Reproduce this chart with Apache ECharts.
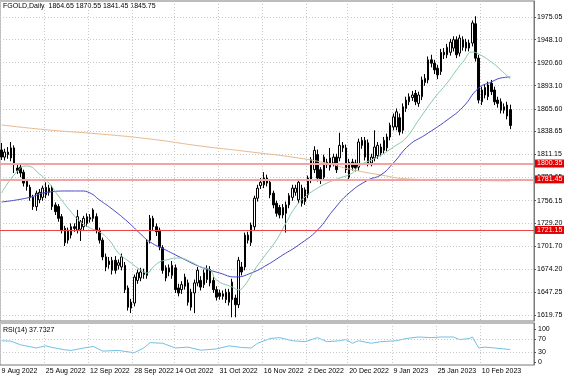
<!DOCTYPE html>
<html>
<head>
<meta charset="utf-8">
<script src="https://cdn.jsdelivr.net/npm/echarts@6/dist/echarts.min.js"></script>
<style>
  html, body { margin: 0; padding: 0; background: #fff; }
  #chart { width: 564px; height: 376px; }
</style>
</head>
<body>
<div id="chart"></div>
<script>
// daily candles: [open, close, low, high]
const candles = [
  [1816.5, 1808.1, 1804.6, 1824.8], [1808, 1814, 1804, 1818], [1814, 1811, 1806, 1820], [1807, 1819, 1803, 1826],
  [1819, 1799, 1789, 1822], [1795, 1792, 1788, 1799], [1796, 1789, 1784, 1799], [1790, 1777, 1773, 1793],
  [1779, 1773, 1768, 1782], [1772, 1760, 1756, 1775], [1760, 1749, 1745, 1763], [1749, 1765, 1744, 1768],
  [1757, 1766, 1753, 1770], [1760, 1771, 1756, 1774], [1763, 1772, 1759, 1778], [1766, 1771, 1762, 1775],
  [1771, 1749, 1745, 1774], [1751, 1743, 1739, 1754], [1749, 1735, 1731, 1752], [1737, 1721, 1717, 1740],
  [1723, 1706, 1702, 1726], [1709, 1721, 1705, 1724], [1715, 1725, 1711, 1729], [1725, 1723, 1719, 1729],
  [1721, 1737, 1717, 1745], [1722, 1731, 1708, 1733], [1725, 1735, 1721, 1738], [1729, 1737, 1725, 1741],
  [1734, 1736, 1730, 1740], [1735, 1745, 1731, 1747], [1737, 1721, 1717, 1741], [1721, 1709, 1705, 1724],
  [1709, 1689, 1685, 1712], [1677, 1689, 1672, 1693], [1684, 1680, 1675, 1689], [1673, 1685, 1668, 1689],
  [1685, 1673, 1669, 1690], [1679, 1682, 1674, 1686], [1677, 1689, 1673, 1693], [1679, 1650, 1646, 1683],
  [1652, 1629, 1625, 1655], [1635, 1628, 1622, 1639], [1634, 1665, 1630, 1668], [1661, 1670, 1657, 1674],
  [1664, 1671, 1660, 1676], [1668, 1671, 1663, 1675], [1667, 1707, 1663, 1710], [1709, 1735, 1705, 1739],
  [1735, 1725, 1721, 1738], [1725, 1719, 1714, 1729], [1721, 1701, 1697, 1724], [1700, 1673, 1669, 1703],
  [1676, 1664, 1660, 1679], [1671, 1676, 1666, 1680], [1667, 1679, 1663, 1684], [1676, 1650, 1646, 1680],
  [1652, 1646, 1642, 1657], [1650, 1656, 1645, 1660], [1654, 1665, 1650, 1669], [1658, 1635, 1631, 1662],
  [1629, 1647, 1625, 1651], [1646, 1658, 1622, 1662], [1658, 1673, 1654, 1677], [1661, 1653, 1649, 1666],
  [1656, 1670, 1652, 1674], [1662, 1675, 1658, 1679], [1674, 1658, 1654, 1678], [1661, 1650, 1646, 1665],
  [1650, 1641, 1637, 1654], [1646, 1642, 1638, 1650], [1642, 1645, 1638, 1649], [1638, 1647, 1634, 1651],
  [1647, 1635, 1631, 1651], [1638, 1659, 1617, 1663], [1640, 1632, 1617, 1644], [1632, 1685, 1628, 1689],
  [1677, 1671, 1667, 1683], [1677, 1715, 1673, 1718], [1715, 1709, 1705, 1719], [1706, 1727, 1702, 1730],
  [1725, 1759, 1721, 1762], [1759, 1771, 1755, 1775], [1774, 1778, 1770, 1783], [1775, 1783, 1771, 1790],
  [1783, 1777, 1773, 1787], [1778, 1763, 1759, 1781], [1765, 1751, 1747, 1768], [1753, 1741, 1737, 1756],
  [1748, 1739, 1735, 1751], [1739, 1748, 1735, 1752], [1741, 1751, 1718, 1755], [1751, 1762, 1747, 1765],
  [1760, 1771, 1756, 1775], [1766, 1771, 1762, 1775], [1757, 1778, 1753, 1782], [1771, 1753, 1749, 1775],
  [1769, 1755, 1751, 1772], [1763, 1783, 1759, 1786], [1781, 1805, 1777, 1808], [1793, 1816, 1789, 1821],
  [1811, 1783, 1779, 1817], [1793, 1781, 1776, 1796], [1784, 1808, 1780, 1811], [1802, 1799, 1795, 1806],
  [1796, 1807, 1792, 1819], [1801, 1808, 1797, 1812], [1808, 1793, 1789, 1812], [1807, 1822, 1803, 1837],
  [1822, 1819, 1814, 1826], [1819, 1793, 1789, 1823], [1784, 1802, 1780, 1806], [1802, 1796, 1792, 1806],
  [1801, 1795, 1791, 1805], [1796, 1826, 1792, 1830], [1828, 1822, 1818, 1832], [1808, 1828, 1804, 1832],
  [1825, 1801, 1797, 1829], [1801, 1808, 1797, 1812], [1807, 1820, 1803, 1840], [1810, 1822, 1806, 1826],
  [1820, 1813, 1809, 1824], [1816, 1828, 1812, 1832], [1819, 1832, 1815, 1836], [1832, 1846, 1828, 1849],
  [1844, 1856, 1840, 1860], [1844, 1862, 1840, 1866], [1855, 1838, 1834, 1860], [1840, 1868, 1836, 1872],
  [1866, 1876, 1862, 1880], [1874, 1880, 1870, 1884], [1879, 1882, 1875, 1887], [1884, 1874, 1870, 1888],
  [1872, 1882, 1868, 1886], [1880, 1900, 1876, 1904], [1897, 1902, 1893, 1907], [1900, 1924, 1896, 1928],
  [1924, 1920, 1915, 1930], [1920, 1912, 1907, 1924], [1914, 1906, 1901, 1918], [1910, 1933, 1906, 1937],
  [1933, 1930, 1925, 1938], [1930, 1939, 1926, 1943], [1933, 1945, 1929, 1949], [1938, 1948, 1934, 1952],
  [1948, 1930, 1926, 1952], [1932, 1950, 1928, 1954], [1948, 1939, 1935, 1952], [1945, 1938, 1934, 1949],
  [1938, 1944, 1934, 1948], [1944, 1968, 1940, 1971], [1967, 1926, 1922, 1976], [1926, 1876, 1872, 1930],
  [1874, 1888, 1870, 1892], [1882, 1891, 1878, 1895], [1880, 1894, 1876, 1898], [1896, 1886, 1882, 1900],
  [1888, 1874, 1870, 1892], [1876, 1872, 1867, 1880], [1874, 1864, 1860, 1878], [1864, 1868, 1860, 1872],
  [1870, 1857, 1853, 1874], [1864.65, 1845.75, 1841.45, 1870.55]
];

// moving averages: [bar index, value]
const maFast = [
  [0, 1765.2], [6, 1795.0], [8, 1797.4], [12, 1787.9], [15, 1777.1], [18, 1761.6], [22, 1742.6], [25, 1730.6],
  [28, 1723.5], [31, 1718.7], [34, 1709.2], [37, 1693.7], [41, 1681.7], [44, 1673.4], [46, 1669.8], [48, 1677.0],
  [50, 1682.9], [52, 1685.3], [56, 1687.7], [60, 1682.9], [63, 1677.0], [66, 1673.4], [68, 1661.5], [73, 1653.1],
  [75, 1649.6], [77, 1655.5], [80, 1673.4], [83, 1688.9], [87, 1709.2], [90, 1729.4], [93, 1748.5], [96, 1760.4],
  [99, 1768.8], [103, 1777.1], [107, 1783.1], [111, 1789.0], [113, 1797.4], [119, 1808.1], [125, 1822.4],
  [128, 1830.8], [132, 1852.2], [137, 1878.5], [141, 1896.4], [144, 1911.9], [146, 1921.4], [149, 1933.3],
  [151, 1930.9], [155, 1921.4], [158, 1911.9], [161, 1901.1]
];
const maMid = [
  [0, 1754.5], [8, 1759.2], [15, 1766.4], [21, 1767.6], [25, 1767.6], [28, 1765.2], [31, 1756.9], [35, 1746.1],
  [40, 1730.6], [44, 1716.3], [47, 1706.8], [52, 1697.2], [57, 1687.7], [63, 1677.0], [69, 1669.8], [74, 1665.1],
  [79, 1669.8], [84, 1679.4], [89, 1691.3], [94, 1703.2], [100, 1721.1], [105, 1744.9], [110, 1765.2],
  [116, 1780.7], [120, 1786.7], [124, 1801.0], [129, 1822.4], [134, 1834.3], [141, 1852.2], [146, 1867.7],
  [151, 1890.4], [155, 1897.6], [158, 1902.3], [161, 1903.5]
];
const maSlow = [
  [0, 1846.3], [15, 1840.3], [31, 1835.6], [47, 1829.6], [63, 1821.2], [79, 1814.1], [94, 1806.9],
  [104, 1799.8], [110, 1793.8], [120, 1786.7], [129, 1781.9], [142, 1780.7], [161, 1779.5]
];

// RSI(14): [bar index, value]
const rsi = [
  [0, 64.3], [3, 63], [6, 52], [11, 42.5], [14, 49], [16, 44], [20, 37], [22, 35], [26, 42.5], [29, 47],
  [32, 33], [37, 35], [42, 28], [45, 42.5], [47, 58.6], [51, 56.7], [55, 42.5], [59, 45], [63, 35.8],
  [68, 39.6], [72, 49], [76, 44], [79, 42.5], [81, 56.7], [85, 71], [88, 73.8], [92, 64.3], [96, 61.5],
  [100, 73.8], [103, 61.5], [107, 64.3], [109, 68], [111, 56.7], [113, 64.3], [117, 56.7], [120, 61.5],
  [125, 64.3], [128, 71], [132, 75.7], [136, 73.8], [139, 75.7], [143, 75.7], [145, 68], [148, 71],
  [149, 75.7], [151, 42.5], [153, 45], [156, 42.5], [159, 39.6], [161, 37.7]
];

const priceTicks = [1975.05, 1948.10, 1920.60, 1893.10, 1865.60, 1838.65, 1811.15, 1783.65,
  1756.15, 1729.20, 1701.70, 1674.20, 1647.25, 1619.75];
const rsiTicks = [0, 30, 70, 100];
const rsiLevels = [30, 70];
const levels = [1800.35, 1781.45, 1721.15];
const dateLabels = ['9 Aug 2022', '25 Aug 2022', '12 Sep 2022', '28 Sep 2022', '14 Oct 2022', '31 Oct 2022',
  '16 Nov 2022', '2 Dec 2022', '20 Dec 2022', '9 Jan 2023', '25 Jan 2023', '10 Feb 2023'];
const dateBars = [0, 14, 28, 42, 55, 69, 83, 97, 110, 124, 138, 152];

const chart = echarts.init(document.getElementById('chart'));

const FONT = 'Liberation Sans';
const FS = 7;
const slots = Array.from({ length: candles.length + 7 }, (_, i) => String(i));
const last = candles[candles.length - 1];
const dotted = { color: '#c8c8c8', type: [1, 2], width: 1 };
const isDateBar = (i) => dateBars.indexOf(i) >= 0;

// level lines with the red price tags on the right
const tag = (text, bg) => ({
  show: true, position: 'end', distance: 1, formatter: text,
  color: '#fff', backgroundColor: bg, padding: [1, 2, 0, 2],
  fontSize: FS, fontFamily: FONT
});
const levelLines = levels.map((v, k) => ({
  yAxis: v,
  lineStyle: k < 2 ? { color: '#f3a3a3', width: 2, type: 'solid' } : { color: '#ee4444', width: 1, type: 'solid' },
  label: tag(v.toFixed(2), '#e30000')
}));
levelLines.push({ yAxis: last[1], lineStyle: { opacity: 0 }, label: tag(last[1].toFixed(2), '#000') });

const option = {
  animation: false,
  backgroundColor: '#fff',
  textStyle: { fontFamily: FONT },
  grid: [
    { left: 0, top: 1, width: 534, height: 320, show: true, borderColor: '#7a7a7a', borderWidth: 1, outerBoundsMode: 'none' },
    { left: 0, top: 323, width: 534, height: 42, show: true, borderColor: '#7a7a7a', borderWidth: 1, outerBoundsMode: 'none' }
  ],
  xAxis: [
    {
      type: 'category', gridIndex: 0, data: slots, boundaryGap: true,
      axisLine: { show: false }, axisTick: { show: false }, axisLabel: { show: false },
      splitLine: { show: true, interval: (i) => isDateBar(i), lineStyle: dotted }
    },
    {
      type: 'category', gridIndex: 1, data: slots, boundaryGap: true,
      axisLine: { show: false }, axisTick: { show: false },
      axisLabel: {
        show: true, interval: (i) => isDateBar(i),
        formatter: (v) => dateLabels[dateBars.indexOf(Number(v))] || '',
        align: 'left', color: '#000', fontSize: FS, fontFamily: FONT, margin: 3
      },
      splitLine: { show: true, interval: (i) => isDateBar(i), lineStyle: dotted }
    }
  ],
  yAxis: [
    {
      type: 'value', gridIndex: 0, position: 'right', min: 1612.6, max: 1994.13,
      axisLine: { show: true, lineStyle: { color: '#7a7a7a' } },
      axisTick: { show: true, customValues: priceTicks, length: 2, lineStyle: { color: '#555' } },
      axisLabel: { customValues: priceTicks, formatter: (v) => v.toFixed(2), color: '#000', fontSize: FS, fontFamily: FONT, margin: 3 },
      splitLine: { show: true, customValues: priceTicks, lineStyle: dotted }
    },
    {
      type: 'value', gridIndex: 1, position: 'right', min: -9, max: 118,
      axisLine: { show: true, lineStyle: { color: '#7a7a7a' } },
      axisTick: { show: true, customValues: rsiTicks, length: 2, lineStyle: { color: '#555' } },
      axisLabel: { show: false },
      splitLine: { show: false }
    }
  ],
  graphic: [
    { type: 'text', left: 3, top: 3, style: { text: 'FGOLD,Daily  1864.65 1870.55 1841.45 1845.75', fill: '#000', font: FS + 'px ' + FONT } },
    { type: 'text', left: 3, top: 327, style: { text: 'RSI(14) 37.7327', fill: '#000', font: FS + 'px ' + FONT } }
  ],
  series: [
    {
      type: 'candlestick', xAxisIndex: 0, yAxisIndex: 0, data: candles, barWidth: 2,
      itemStyle: { color: '#fff', color0: '#000', borderColor: '#000', borderColor0: '#000', borderWidth: 1 },
      markLine: { symbol: 'none', silent: true, animation: false, data: levelLines }
    },
    {
      type: 'line', xAxisIndex: 0, yAxisIndex: 0, data: maSlow, showSymbol: false, smooth: true, z: 3,
      lineStyle: { color: '#e6b98f', width: 1 }
    },
    {
      type: 'line', xAxisIndex: 0, yAxisIndex: 0, data: maMid, showSymbol: false, smooth: true, z: 3,
      lineStyle: { color: '#4646c8', width: 1 }
    },
    {
      type: 'line', xAxisIndex: 0, yAxisIndex: 0, data: maFast, showSymbol: false, smooth: true, z: 3,
      lineStyle: { color: '#86c8a6', width: 1 }
    },
    {
      type: 'line', xAxisIndex: 1, yAxisIndex: 1, data: rsi, showSymbol: false, z: 3,
      lineStyle: { color: '#72c0e8', width: 1 },
      markLine: {
        symbol: 'none', silent: true, animation: false, label: { show: false },
        lineStyle: dotted, data: rsiLevels.map((v) => ({ yAxis: v }))
      }
    }
  ]
};

chart.setOption(option);

// RSI scale labels, placed through the RSI axis
const rsiText = rsiTicks.map((v) => ({
  type: 'text', x: 538, y: chart.convertToPixel({ yAxisIndex: 1 }, v),
  style: { text: String(v), fill: '#000', font: FS + 'px ' + FONT, verticalAlign: 'middle', align: 'left' }
}));
chart.setOption({ graphic: option.graphic.concat(rsiText) });
</script>
</body>
</html>
